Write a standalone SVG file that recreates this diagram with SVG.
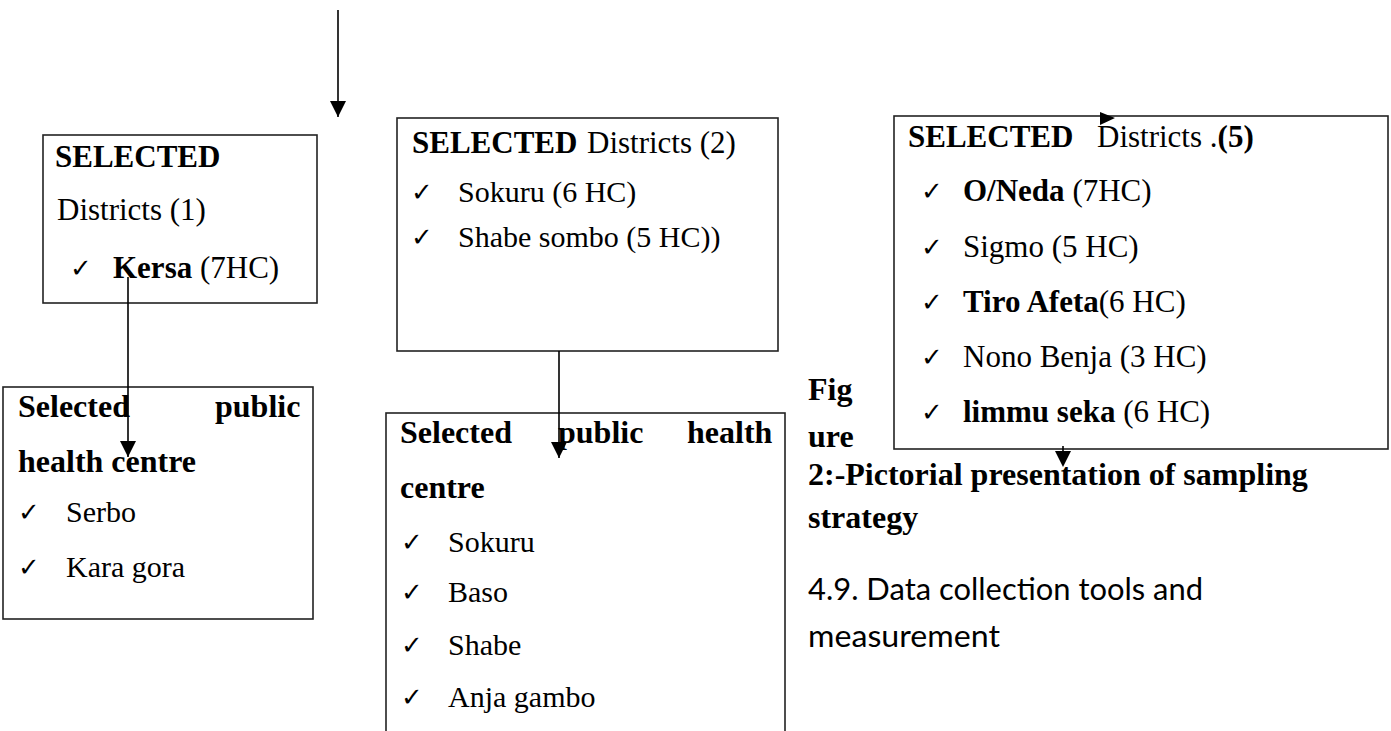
<svg xmlns="http://www.w3.org/2000/svg" width="1391" height="731" viewBox="0 0 1391 731">
<defs>
<marker id="ah" markerWidth="16" markerHeight="16" refX="16" refY="8" orient="auto" markerUnits="userSpaceOnUse">
<path d="M0,0 L16,8 L0,16 Z" fill="#000"/>
</marker>
</defs>
<style>
.box{fill:#fff;stroke:#222;stroke-width:1.6}
.t{font-family:"Liberation Serif","Times New Roman",serif;font-size:30px;fill:#000}
.b{font-weight:bold}
.h{font-family:"Liberation Serif","Times New Roman",serif;font-size:31px;font-weight:bold;fill:#000}
.ck{font-family:"DejaVu Sans",sans-serif;font-size:26px;fill:#000}
.s{font-family:Lato,"Open Sans",sans-serif;font-size:31px;fill:#000}
.ln{stroke:#000;stroke-width:1.6;fill:none}
</style>
<rect width="1391" height="731" fill="#fff"/>

<g id="box1">
<rect class="box" x="43" y="135" width="274" height="168"/>
<text class="h" x="55" y="167">SELECTED</text>
<text class="t" x="57" y="220" style="font-size:31px">Districts (1)</text>
<text class="ck" x="70" y="277">✓</text>
<text class="t" x="113" y="278" style="font-size:31px"><tspan class="b">Kersa</tspan> (7HC)</text>
</g>

<g id="box2">
<rect class="box" x="397" y="118" width="381" height="233"/>
<text class="h" x="412" y="153">SELECTED</text>
<text class="t" x="587" y="153" style="font-size:31px">Districts (2)</text>
<text class="ck" x="411" y="201">✓</text>
<text class="t" x="458" y="202">Sokuru (6 HC)</text>
<text class="ck" x="411" y="246">✓</text>
<text class="t" x="458" y="247">Shabe sombo (5 HC))</text>
</g>

<g id="box3">
<rect class="box" x="3" y="387" width="310" height="232"/>
<text class="h" x="18" y="417" style="font-size:32px">Selected</text>
<text class="h" x="215" y="417" style="font-size:32px">public</text>
<text class="h" x="18" y="472" style="font-size:32px">health centre</text>
<text class="ck" x="18" y="521">✓</text>
<text class="t" x="66" y="522">Serbo</text>
<text class="ck" x="18" y="576">✓</text>
<text class="t" x="66" y="577">Kara gora</text>
</g>

<g id="box4">
<rect class="box" x="386" y="413" width="399" height="330"/>
<text class="h" x="400" y="443" style="font-size:32px">Selected</text>
<text class="h" x="558" y="443" style="font-size:32px">public</text>
<text class="h" x="687" y="443" style="font-size:32px">health</text>
<text class="h" x="400" y="498" style="font-size:32px">centre</text>
<text class="ck" x="401" y="551">✓</text>
<text class="t" x="448" y="552">Sokuru</text>
<text class="ck" x="401" y="601">✓</text>
<text class="t" x="448" y="602">Baso</text>
<text class="ck" x="401" y="654">✓</text>
<text class="t" x="448" y="655">Shabe</text>
<text class="ck" x="401" y="706">✓</text>
<text class="t" x="448" y="707">Anja gambo</text>
</g>

<g id="box5">
<rect class="box" x="894" y="116" width="494" height="333"/>
<text class="h" x="908" y="147">SELECTED</text>
<text class="t" x="1097" y="147" style="font-size:31px">Districts .<tspan class="b">(5)</tspan></text>
<text class="ck" x="921" y="200">✓</text>
<text class="t" x="963" y="201" style="font-size:31px"><tspan class="b">O/Neda</tspan> (7HC)</text>
<text class="ck" x="921" y="256">✓</text>
<text class="t" x="963" y="257" style="font-size:31px">Sigmo (5 HC)</text>
<text class="ck" x="921" y="311">✓</text>
<text class="t" x="963" y="312" style="font-size:31px"><tspan class="b">Tiro Afeta</tspan>(6 HC)</text>
<text class="ck" x="921" y="366">✓</text>
<text class="t" x="963" y="367" style="font-size:31px">Nono Benja (3 HC)</text>
<text class="ck" x="921" y="421">✓</text>
<text class="t" x="963" y="422" style="font-size:31px"><tspan class="b">limmu seka</tspan> (6 HC)</text>
</g>

<g id="caption">
<text class="h" x="808" y="400" style="font-size:32px">Fig</text>
<text class="h" x="808" y="447" style="font-size:32px">ure</text>
<text class="h" x="808" y="485" style="font-size:32px">2:-Pictorial presentation of sampling</text>
<text class="h" x="808" y="528" style="font-size:32px">strategy</text>
<text class="s" x="808" y="600" textLength="395" lengthAdjust="spacingAndGlyphs">4.9. Data collection tools and</text>
<text class="s" x="808" y="647" textLength="192" lengthAdjust="spacingAndGlyphs">measurement</text>
</g>

<g id="connectors">
<line class="ln" x1="338" y1="10" x2="338" y2="117" marker-end="url(#ah)"/>
<line class="ln" x1="128" y1="277" x2="128" y2="457" marker-end="url(#ah)"/>
<line class="ln" x1="559" y1="351" x2="559" y2="458" marker-end="url(#ah)"/>
<path d="M1100,112 L1115,118 L1100,125 Z" fill="#000"/>
<line class="ln" x1="1063" y1="446" x2="1063" y2="456"/>
<path d="M1055,451 L1071,451 L1063,467 Z" fill="#000"/>
</g>
</svg>
